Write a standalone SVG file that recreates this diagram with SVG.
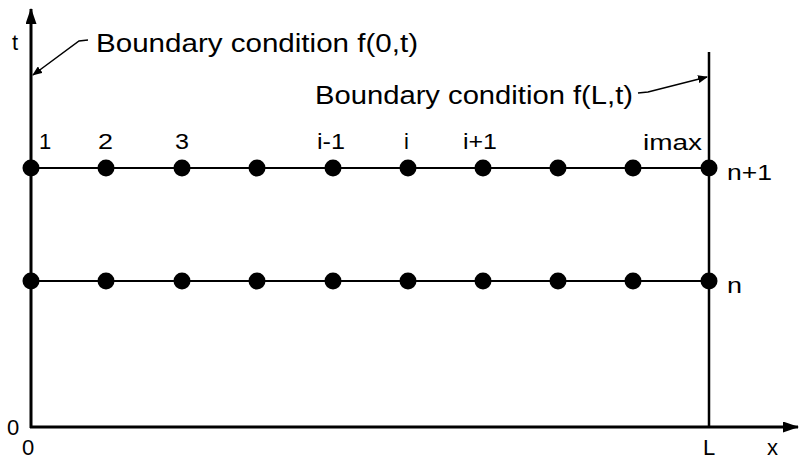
<svg xmlns="http://www.w3.org/2000/svg" width="799" height="460" viewBox="0 0 799 460">
<defs>
<marker id="ah" markerWidth="10" markerHeight="8" refX="9" refY="4" orient="auto" markerUnits="userSpaceOnUse">
<path d="M0,0 L10,4 L0,8 Z" fill="#000"/>
</marker>
<marker id="axh" markerWidth="16" markerHeight="11" refX="15" refY="5.5" orient="auto" markerUnits="userSpaceOnUse">
<path d="M0,0 L16,5.5 L0,11 Z" fill="#000"/>
</marker>
</defs>
<style>
text{font-family:"Liberation Sans",Arial,sans-serif;fill:#000}
.big{font-size:25px}
.lbl{font-size:22px}
.axis{stroke:#000;stroke-width:3;fill:none}
.row{stroke:#000;stroke-width:2;fill:none}
.bnd{stroke:#000;stroke-width:2.5;fill:none}
.lead{stroke:#000;stroke-width:1.5;fill:none}
.dot{fill:#000}
</style>
<rect width="799" height="460" fill="#fff"/>
<g id="connectors">
<line class="axis" x1="31" y1="428" x2="31" y2="9" marker-end="url(#axh)"/>
<line class="axis" x1="30" y1="427" x2="798" y2="427" marker-end="url(#axh)"/>
<line class="bnd" x1="709" y1="52" x2="709" y2="427"/>
<line class="row" x1="31" y1="168" x2="709" y2="168"/>
<line class="row" x1="31" y1="281" x2="709" y2="281"/>
<polyline class="lead" points="88,40 79,41 33,75" marker-end="url(#ah)"/>
<polyline class="lead" points="638,93 648,92 707,77" marker-end="url(#ah)"/>
</g>
<g id="row-n1">
<circle class="dot" cx="31" cy="168" r="8.5"/>
<circle class="dot" cx="106" cy="168" r="8.5"/>
<circle class="dot" cx="182" cy="168" r="8.5"/>
<circle class="dot" cx="257" cy="168" r="8.5"/>
<circle class="dot" cx="333" cy="168" r="8.5"/>
<circle class="dot" cx="408" cy="168" r="8.5"/>
<circle class="dot" cx="483" cy="168" r="8.5"/>
<circle class="dot" cx="558" cy="168" r="8.5"/>
<circle class="dot" cx="633" cy="168" r="8.5"/>
<circle class="dot" cx="709" cy="168" r="8.5"/>
</g>
<g id="row-n">
<circle class="dot" cx="31" cy="281" r="8.5"/>
<circle class="dot" cx="106" cy="281" r="8.5"/>
<circle class="dot" cx="182" cy="281" r="8.5"/>
<circle class="dot" cx="257" cy="281" r="8.5"/>
<circle class="dot" cx="333" cy="281" r="8.5"/>
<circle class="dot" cx="408" cy="281" r="8.5"/>
<circle class="dot" cx="483" cy="281" r="8.5"/>
<circle class="dot" cx="558" cy="281" r="8.5"/>
<circle class="dot" cx="633" cy="281" r="8.5"/>
<circle class="dot" cx="709" cy="281" r="8.5"/>
</g>
<g id="labels">
<text class="lbl" x="12" y="50">t</text>
<text class="big" x="96" y="52" textLength="322" lengthAdjust="spacingAndGlyphs">Boundary condition f(0,t)</text>
<text class="big" x="315" y="104" textLength="318" lengthAdjust="spacingAndGlyphs">Boundary condition f(L,t)</text>
<text class="lbl" x="39" y="149">1</text>
<text class="lbl" x="98" y="149" textLength="15" lengthAdjust="spacingAndGlyphs">2</text>
<text class="lbl" x="175" y="149" textLength="14" lengthAdjust="spacingAndGlyphs">3</text>
<text class="lbl" x="317" y="149" textLength="28" lengthAdjust="spacingAndGlyphs">i-1</text>
<text class="lbl" x="404" y="149">i</text>
<text class="lbl" x="463" y="149" textLength="34" lengthAdjust="spacingAndGlyphs">i+1</text>
<text class="lbl" x="643" y="150" textLength="59" lengthAdjust="spacingAndGlyphs">imax</text>
<text class="lbl" x="727" y="180" textLength="45" lengthAdjust="spacingAndGlyphs">n+1</text>
<text class="lbl" x="727" y="293" textLength="15" lengthAdjust="spacingAndGlyphs">n</text>
<text class="lbl" x="7" y="435">0</text>
<text class="lbl" x="22" y="455">0</text>
<text class="lbl" x="703" y="455">L</text>
<text class="lbl" x="767" y="455">x</text>
</g>
</svg>
